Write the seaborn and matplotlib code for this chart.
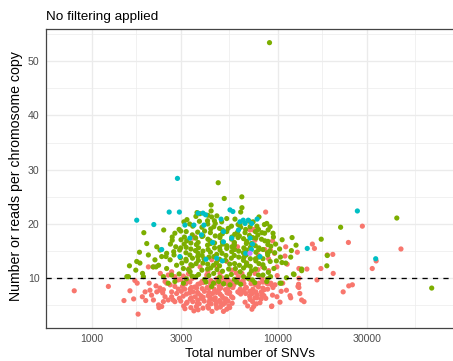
import matplotlib
matplotlib.use("Agg")
import matplotlib.pyplot as plt
import pandas as pd
import seaborn as sns
from matplotlib.ticker import FixedLocator, NullFormatter

# (total SNVs, reads per chromosome copy) for each sample, by cluster
red_points = [
    (803, 7.7), (1225, 8.5), (1486, 5.9), (1675, 6.2), (1770, 3.4), (1600, 7.7), (1865, 6.6), (1945, 5.9),
    (1750, 9.1), (1700, 9.6), (1930, 7.5), (2010, 12.1), (2140, 12.1), (2050, 7.8), (2090, 6.9), (2140, 6.0),
    (2030, 9.1), (2230, 7.5), (2320, 7.8), (2400, 7.3), (2280, 5.1), (2370, 4.8), (2290, 4.6), (2420, 5.7),
    (2470, 6.6), (2570, 6.0), (2680, 6.6), (2730, 6.0), (2210, 8.6), (2320, 8.2), (2420, 7.9), (2520, 9.1),
    (2630, 8.8), (2790, 8.5), (2910, 8.0), (2570, 10.6), (2680, 11.2), (2790, 10.3), (2910, 9.7), (2330, 10.9),
    (2470, 9.4), (2680, 7.5), (2850, 7.2), (2790, 5.7), (2950, 6.3),
    (3010, 9.8), (3360, 9.3), (3470, 10.0), (3900, 9.4), (4040, 9.8), (4490, 9.2), (4690, 9.9), (5210, 9.4),
    (5390, 9.7), (6070, 10.0), (6270, 9.3), (7030, 9.8), (7300, 9.4), (8200, 9.9),
    (3060, 8.5), (3190, 9.0), (3570, 8.4), (3710, 8.9), (4160, 8.3), (4340, 9.0), (4830, 8.5), (5050, 8.9),
    (5650, 8.4), (5790, 8.8), (6560, 9.0), (6760, 8.3), (7550, 8.8), (7850, 8.4), (8820, 9.0),
    (3020, 7.6), (3370, 8.0), (3490, 7.5), (3910, 8.1), (4020, 7.6), (4540, 8.0), (4670, 7.4), (5220, 7.9),
    (5370, 8.1), (6080, 7.5), (6260, 8.0), (7050, 7.6), (7330, 8.0), (8140, 7.5), (8430, 7.9),
    (3090, 6.7), (3220, 7.1), (3590, 6.6), (3730, 7.2), (4210, 6.8), (4320, 6.5), (4880, 7.1), (5000, 6.7),
    (5630, 6.6), (6300, 7.1), (7040, 6.7), (7280, 7.2), (8170, 6.8),
    (3000, 5.8), (3380, 6.2), (3480, 5.7), (3870, 6.3), (4010, 5.8), (4510, 6.1), (4660, 5.6), (5250, 6.2),
    (5390, 5.8), (7080, 6.1), (7300, 5.7), (8120, 6.2),
    (3110, 4.9), (3220, 5.4), (3640, 4.8), (3770, 5.3), (4190, 4.9), (4370, 5.3), (4900, 4.7), (5080, 5.2),
    (5670, 5.4), (6870, 4.9), (7650, 5.3),
    (3160, 4.4), (3530, 4.0), (4230, 4.5), (4420, 3.9), (5300, 4.3), (5500, 4.6), (7240, 4.3),
    (3720, 4.2), (4680, 4.5), (5090, 3.9),
    (3170, 9.2), (3420, 8.3), (3690, 7.4), (3960, 6.5), (4260, 5.6), (4600, 9.1), (4920, 8.2), (5320, 7.3),
    (5720, 6.4), (6170, 9.2), (6650, 8.1), (7160, 7.3), (7700, 6.4), (8300, 8.2), (3420, 6.4), (3960, 9.2),
    (4600, 6.4), (5320, 9.0), (6170, 7.4), (4260, 8.2), (4920, 5.5), (3690, 5.4), (6650, 5.6), (7160, 9.0),
    (8300, 9.3), (5720, 8.3),
    (3250, 9.6), (3800, 9.0), (4350, 9.6), (4950, 9.2), (5600, 9.3), (6500, 9.6), (7900, 9.1), (3150, 8.0),
    (3650, 8.2), (4250, 7.4), (4800, 7.8), (5450, 7.2), (6450, 7.6), (7600, 7.5), (8800, 8.0), (3350, 7.3),
    (3850, 6.8), (4450, 7.2), (5100, 6.3), (5500, 7.4), (6700, 7.2), (7700, 7.0), (3250, 5.6), (3700, 6.0),
    (4300, 6.1), (4850, 5.9), (5200, 5.5), (7500, 6.4), (8000, 5.5), (3400, 4.6), (3950, 4.5), (4650, 5.1),
    (5450, 4.9), (7400, 4.8), (8200, 7.2), (8600, 6.3), (3300, 10.8), (4200, 11.2), (5000, 10.1),
    (6400, 10.9), (7800, 11.6),
    (3330, 11.8), (3810, 12.1), (4400, 13.4), (5300, 13.1), (5640, 11.5), (6790, 12.8), (7520, 10.9),
    (7830, 14.3), (4880, 10.9), (4140, 10.6), (6120, 10.3), (3490, 17.4), (6060, 15.8), (7070, 18.9),
    (7520, 17.0), (8580, 22.2), (7370, 18.9), (3580, 17.6), (9350, 16.9), (8270, 12.1), (9230, 8.8),
    (7440, 19.0), (6600, 14.1), (5800, 16.4), (8500, 15.3), (3100, 10.4), (3600, 10.2), (5950, 11.0),
    (7000, 10.6), (8200, 10.2), (8900, 11.4), (4700, 12.2),
    (9100, 15.2), (9570, 14.6), (9860, 12.1), (9160, 9.1), (10600, 9.1), (9340, 6.9), (9870, 6.6),
    (9230, 4.8), (11100, 7.8), (12800, 8.5), (13100, 7.2), (13400, 6.0), (16200, 9.7), (15300, 16.3),
    (15700, 15.5), (19800, 10.9), (17000, 11.8), (18400, 14.3), (19700, 14.4), (22400, 7.5), (24000, 8.6),
    (25100, 8.8), (32100, 11.8), (33700, 13.2), (45800, 15.4), (23900, 16.6), (28400, 19.6), (11000, 15.8),
    (12950, 11.8), (14300, 11.7), (12950, 10.0), (11600, 6.8), (11700, 6.4), (12950, 8.3), (12900, 8.9),
    (13800, 5.7), (10250, 5.6), (9260, 4.9), (8400, 6.8), (9400, 8.3), (9640, 8.8), (8700, 9.1),
    (10400, 7.6), (11200, 12.6), (8900, 13.6), (9900, 10.5), (12700, 14.8), (10900, 14.1),
]

green_points = [
    (9000, 53.4), (4770, 27.6), (5140, 24.7), (6390, 25.0), (43500, 21.1), (21700, 19.4), (17070, 17.2),
    (11900, 17.5), (10520, 17.1), (67000, 8.2), (1900, 18.4), (2430, 18.9), (1970, 16.4), (2640, 16.3),
    (18400, 14.2), (18300, 12.3), (12500, 16.1), (11800, 15.1), (11700, 13.9), (10500, 12.9), (13400, 11.4),
    (12100, 10.8), (11100, 10.1), (10400, 9.1), (11000, 12.8), (10300, 13.9), (12200, 10.7),
    (9400, 18.3), (8700, 20.1), (9060, 19.5),
    (4370, 23.5), (4370, 22.4), (4400, 21.3), (3670, 22.1), (6400, 23.0), (6300, 22.2), (3800, 21.9),
    (4200, 21.6), (4550, 20.6),
    (1800, 14.8), (1590, 12.3), (1870, 10.9), (2230, 15.8), (2320, 15.2), (2130, 12.1), (2210, 12.1),
    (2500, 14.0), (2700, 17.0),
    (2010, 14.3), (1810, 12.8), (1720, 11.5), (1570, 10.3), (1890, 10.3), (2180, 13.4), (2280, 12.4),
    (2370, 14.0), (2520, 14.6), (2630, 13.4), (2760, 14.3), (2850, 12.4), (2520, 11.8), (2680, 10.6),
    (2420, 10.3), (2570, 9.1), (2790, 9.4), (1740, 13.1), (1540, 10.3),
    (3620, 21.4), (4180, 20.6), (4690, 21.5), (5870, 20.9), (7010, 20.5), (7900, 21.3), (3240, 20.8),
    (3120, 20.4), (3480, 19.6), (4190, 20.0), (4520, 19.5), (4980, 20.4), (5620, 19.6), (6250, 20.1),
    (7080, 19.5), (7350, 20.4), (8450, 19.9),
    (2940, 19.0), (3210, 18.6), (3900, 19.4), (4030, 18.7), (4850, 19.2), (5030, 18.9), (6060, 18.5),
    (6300, 19.4), (7560, 18.6), (7850, 19.0), (8850, 18.9),
    (2790, 18.3), (3140, 17.6), (3460, 18.0), (3900, 17.7), (4330, 18.4), (4890, 17.9), (5020, 18.2),
    (5650, 17.6), (5850, 18.1), (7020, 17.9), (7300, 17.5), (8470, 18.3), (9450, 17.6),
    (3010, 17.1), (3230, 16.9), (3610, 17.4), (3720, 16.6), (4200, 17.2), (4310, 16.9), (4870, 17.5),
    (5020, 16.7), (5630, 17.2), (5830, 16.6), (6530, 17.3), (6790, 16.8), (8150, 17.2), (8830, 16.8),
    (2820, 15.8), (3130, 16.3), (3210, 15.7), (3640, 16.2), (3740, 15.6), (4180, 16.1), (4350, 16.4),
    (4850, 15.7), (5040, 16.3), (5650, 15.8), (5830, 16.1), (6550, 15.6), (6760, 16.4), (7550, 16.0),
    (7900, 15.6), (8820, 16.2), (9150, 15.9),
    (2960, 15.2), (3200, 14.7), (3600, 15.1), (3720, 14.6), (4210, 15.3), (4330, 14.8), (4880, 15.2),
    (5000, 14.6), (5640, 14.9), (5840, 15.3), (6510, 14.7), (6760, 15.2), (7610, 14.8), (7870, 15.3),
    (8780, 14.7), (9030, 15.0),
    (2990, 13.8), (3360, 14.3), (3470, 13.7), (3910, 14.2), (4000, 13.6), (4520, 14.0), (4680, 14.4),
    (5610, 13.7), (5820, 14.2), (6540, 13.8), (6750, 14.3), (7570, 13.6), (7860, 13.9), (8800, 14.3),
    (3040, 12.8), (3210, 13.2), (3630, 12.7), (3730, 13.3), (4190, 12.6), (4670, 12.9), (5220, 13.3),
    (5840, 12.7), (6520, 13.3), (6770, 12.8), (7600, 13.2), (7900, 12.7), (9080, 13.1),
    (3100, 11.8), (3460, 12.3), (4180, 11.7), (4350, 11.9), (4850, 12.3), (5430, 11.7), (6530, 11.9),
    (6770, 12.4), (7570, 11.7), (8450, 11.9),
    (2940, 10.8), (3370, 11.2), (3740, 10.7), (4510, 10.9), (5030, 11.3), (5610, 10.7), (6260, 11.2),
    (7030, 10.8), (7850, 10.6), (8870, 11.1),
    (3220, 9.9), (3620, 10.3), (4030, 9.8), (4850, 10.2), (5830, 9.8), (6530, 10.3), (7290, 9.7),
    (8780, 9.9), (9120, 10.3),
    (3100, 9.1), (4500, 9.1), (4400, 8.5), (5100, 9.0), (5520, 8.8), (6000, 9.3), (8700, 9.4),
    (10250, 9.1), (13400, 11.7),
    (3350, 20.0), (3780, 20.5), (4600, 20.1), (5300, 21.0), (5400, 19.2), (6100, 19.9), (6700, 19.0),
    (7700, 19.6), (8200, 18.4), (3000, 18.7), (3700, 18.5), (4350, 19.1), (4600, 17.8), (5300, 18.6),
    (6200, 17.8), (6650, 18.4), (7800, 18.0), (2700, 17.6), (3400, 16.5), (3950, 17.8), (4560, 16.5),
    (5300, 16.0), (6100, 17.5), (7200, 16.4), (7600, 17.4), (8500, 16.9), (3000, 15.6), (3400, 15.4),
    (3950, 15.0), (4560, 15.6), (5300, 15.5), (6150, 15.0), (7100, 15.7), (8300, 15.3), (2750, 14.9),
    (3200, 13.5), (3700, 14.0), (4250, 13.9), (4850, 13.5), (5250, 14.2), (6150, 13.9), (7100, 13.6),
    (8300, 13.6), (3400, 12.5), (3950, 12.8), (4500, 12.4), (5500, 12.6), (6200, 12.4), (7100, 12.2),
    (8300, 12.5), (3300, 11.6), (3900, 11.5), (4700, 11.6), (5900, 11.8), (7200, 11.4), (3450, 10.4),
    (4250, 10.5), (5300, 10.3), (6900, 10.0), (8300, 10.6), (4100, 9.3), (4800, 9.4), (6300, 8.9),
    (7500, 9.2), (9600, 14.7), (9800, 13.2), (9700, 16.3), (9500, 11.8), (10200, 15.4),
]

cyan_points = [
    (2880, 28.4), (1740, 20.7), (2150, 19.9), (2600, 22.2), (2950, 22.2), (3160, 19.8), (3530, 19.8),
    (3950, 22.0), (4080, 21.7), (5520, 22.6), (5720, 22.3), (4940, 20.9), (6650, 20.1), (7720, 20.9),
    (26700, 22.4), (14360, 15.5), (33500, 13.6), (3720, 22.0), (4000, 19.8), (5090, 18.6), (6500, 20.7),
    (6920, 20.7), (7220, 20.1), (5090, 16.7), (6130, 18.9), (3880, 18.0), (6240, 20.4), (7070, 17.4),
    (8000, 14.0), (4680, 13.7), (5020, 13.2), (3360, 17.4), (2970, 14.0), (2370, 15.3), (4100, 13.5),
    (5640, 17.4), (7290, 16.3), (7200, 15.3), (4450, 16.6), (6700, 14.6),
]

purple_points = [(7070, 14.6)]

group_order = ["1", "2", "3", "4"]
group_colors = ["#F8766D", "#7CAE00", "#00BFC4", "#C77CFF"]

x_breaks = [1000, 3000, 10000, 30000]
x_tick_labels = ["1000", "3000", "10000", "30000"]
x_minor = [548, 1732, 5477, 17321, 54772]
y_breaks = [10, 20, 30, 40, 50]
y_minor = [5, 15, 25, 35, 45, 55]
threshold = 10

frames = []
for name, pts in zip(group_order, [red_points, green_points, cyan_points, purple_points]):
    frames.append(pd.DataFrame(pts, columns=["snvs", "reads"]).assign(group=name))
df = pd.concat(frames, ignore_index=True)

sns.set_style("white")
plt.rcParams["font.family"] = ["Liberation Sans", "DejaVu Sans"]

W, H = 453, 361
left_px, right_px, top_px, bottom_px = 45.7, 454.0, 29.3, 327.7
fig = plt.figure(figsize=(W / 100, H / 100), dpi=100)
ax = fig.add_axes([left_px / W, 1 - bottom_px / H, (right_px - left_px) / W, (bottom_px - top_px) / H])

sns.scatterplot(data=df, x="snvs", y="reads", hue="group", hue_order=group_order,
                palette=group_colors, s=14, linewidth=0, legend=False, ax=ax, zorder=3)

ax.set_xscale("log")
ax.set_xlim(564, 88300)
ax.set_ylim(0.9, 55.86)
ax.axhline(threshold, color="black", lw=0.94, ls=(0, (4, 4)), zorder=4)

ax.xaxis.set_major_locator(FixedLocator(x_breaks))
ax.set_xticklabels(x_tick_labels)
ax.xaxis.set_minor_locator(FixedLocator(x_minor))
ax.xaxis.set_minor_formatter(NullFormatter())
ax.set_yticks(y_breaks)
ax.set_yticks(y_minor, minor=True)
ax.tick_params(which="minor", length=0)
ax.tick_params(which="major", length=2.45, width=0.9, color="#444444",
               labelcolor="#4D4D4D", labelsize=7.6, pad=1.95)

ax.grid(which="major", color="#EBEBEB", lw=0.94)
ax.grid(which="minor", color="#EBEBEB", lw=0.47)
ax.set_axisbelow(True)
for sp in ax.spines.values():
    sp.set_color("#444444")
    sp.set_linewidth(0.9)

axes_w = right_px - left_px
axes_h = bottom_px - top_px
ax.set_xlabel("Total number of SNVs", fontsize=9.65, color="black", va="baseline")
ax.xaxis.set_label_coords((250 - left_px) / axes_w, (bottom_px - 357) / axes_h)
ax.set_ylabel("Number or reads per chromosome copy", fontsize=10.2, color="black", va="baseline")
ax.yaxis.set_label_coords((20.5 - left_px) / axes_w, (bottom_px - 176) / axes_h)
ax.text(0, (bottom_px - 20) / axes_h, "No filtering applied", transform=ax.transAxes,
        ha="left", va="baseline", fontsize=9.7, color="black")

fig.savefig("out.png", dpi=100)
